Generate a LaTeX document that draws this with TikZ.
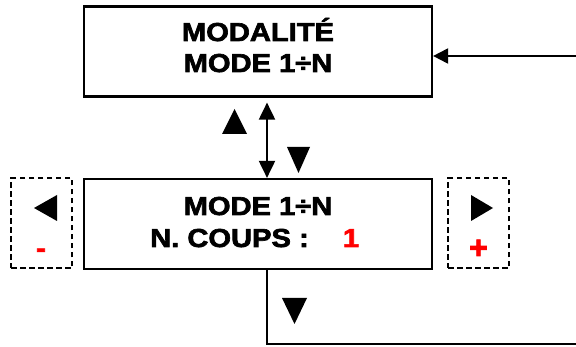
\documentclass[tikz,border=0pt]{standalone}
\usepackage{fontspec}
\setmainfont{Liberation Sans}[FakeStretch=1.12, BoldFeatures={FakeBold=2.5}]
\newfontfamily\plainbold{Liberation Sans Bold}[FakeBold=2.5]
\usetikzlibrary{arrows.meta}
\definecolor{pured}{RGB}{255,0,0}
\tikzset{
  box/.style={draw, line width=2.2pt, minimum width=348pt, minimum height=90pt, inner sep=0pt},
  dbox/.style={draw, line width=2pt, dash pattern=on 5.5pt off 3.5pt, minimum width=61pt, minimum height=90pt, inner sep=0pt},
  lbl/.style={font=\fontsize{26}{30}\selectfont\bfseries, inner sep=0pt, anchor=base},
  conn/.style={line width=2pt},
  tip/.style={-{Triangle[length=15pt,width=15pt]}},
}
\begin{document}
\begin{tikzpicture}[x=1pt,y=-1pt]
\useasboundingbox (0,0) rectangle (576,347);
% boxes
\node[box] (top) at (258,51.5) {};
\node[box] (bot) at (258,224) {};
\node[dbox] (lbox) at (41.5,223.5) {};
\node[dbox] (rbox) at (478.5,223.5) {};
% texts
\node[lbl] (t1) at (258,41) {MODALITÉ};
\node[lbl] (t2) at (258,72) {MODE 1÷N};
\node[lbl] (b1) at (258,215) {MODE 1÷N};
\node[lbl, anchor=base west] (b2) at (150,247) {N. COUPS :};
\node[lbl, text=pured] (b3) at (351,247) {1};
\node[lbl, text=pured] (minus) at (41,257) {-};
\node[inner sep=0pt, anchor=base, text=pured, font=\fontsize{32}{36}\selectfont\plainbold] (plus) at (478.5,258.5) {+};
% triangles
\fill (222,134) -- (247,134) -- (234.5,109) -- cycle;
\fill (287,147) -- (310,147) -- (298.5,173) -- cycle;
\fill (282,298) -- (307,298) -- (294.5,324) -- cycle;
\fill (57,195) -- (57,221) -- (34,208) -- cycle;
\fill (471,195) -- (471,221) -- (493,208) -- cycle;
% connectors
\coordinate (ax) at (267,0);
\coordinate (rin) at (576,56);
\coordinate (lend) at (576,344);
\draw[conn, tip] (rin) -- (rin -| top.east);
\draw[conn, {Triangle[length=17pt,width=16pt]}-{Triangle[length=17pt,width=16pt]}, shorten <=5pt] (ax |- top.south) -- (ax |- bot.north);
\draw[conn] (ax |- bot.south) -- (ax |- lend) -- (lend);
\end{tikzpicture}
\end{document}
